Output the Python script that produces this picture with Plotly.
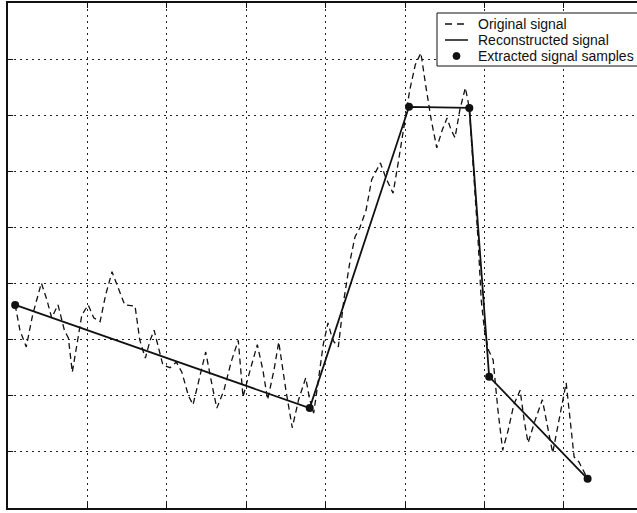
import plotly.graph_objects as go

# Extracted samples (time, amplitude)
sample_t = [0.09, 3.80, 5.05, 5.81, 6.06, 7.30]
sample_v = [3.62, 1.78, 7.15, 7.13, 2.34, 0.52]

# Original signal
orig_t = [0.09, 0.15, 0.23, 0.31, 0.42, 0.49, 0.55, 0.63, 0.71, 0.76,
          0.81, 0.88, 0.93, 1.01, 1.08, 1.16, 1.23, 1.31, 1.39, 1.47,
          1.60, 1.66, 1.73, 1.79, 1.84, 1.89, 1.95, 2.04, 2.12, 2.19,
          2.27, 2.33, 2.41, 2.49, 2.57, 2.63, 2.72, 2.81, 2.90, 2.96,
          3.05, 3.14, 3.21, 3.27, 3.35, 3.41, 3.50, 3.58, 3.66, 3.75,
          3.80, 3.85, 3.90, 3.97, 4.03, 4.09, 4.16, 4.23, 4.31, 4.37,
          4.43, 4.51, 4.58, 4.69, 4.76, 4.85, 4.92, 5.00, 5.06, 5.13,
          5.20, 5.26, 5.33, 5.40, 5.47, 5.53, 5.58, 5.63, 5.69, 5.76,
          5.81, 5.87, 5.92, 5.96, 6.00, 6.05, 6.11, 6.17, 6.23, 6.30,
          6.37, 6.45, 6.50, 6.55, 6.64, 6.73, 6.79, 6.86, 6.94, 7.03,
          7.08, 7.13, 7.19, 7.24, 7.30]
orig_v = [3.62, 3.17, 2.87, 3.44, 4.01, 3.71, 3.39, 3.62, 3.17, 3.03,
          2.42, 2.99, 3.44, 3.62, 3.39, 3.32, 3.80, 4.21, 3.92, 3.62,
          3.60, 2.99, 2.67, 2.99, 3.17, 2.91, 2.55, 2.50, 2.60, 2.42,
          2.01, 1.84, 2.32, 2.78, 2.19, 1.78, 2.10, 2.60, 2.99, 1.98,
          2.46, 2.91, 2.46, 1.93, 2.46, 2.96, 2.10, 1.43, 1.93, 2.32,
          1.93, 1.69, 2.19, 2.91, 3.30, 2.99, 2.87, 3.71, 4.42, 4.83,
          4.99, 5.31, 5.85, 6.15, 5.88, 5.61, 6.20, 6.92, 7.45, 7.90,
          8.11, 7.54, 6.92, 6.42, 6.74, 6.95, 6.74, 6.60, 7.09, 7.49,
          7.13, 5.85, 4.78, 3.71, 3.17, 2.82, 2.64, 1.75, 1.03, 1.39,
          1.84, 2.10, 1.57, 1.16, 1.57, 1.93, 1.48, 0.98, 1.57, 2.23,
          1.57, 0.91, 0.82, 0.68, 0.52]

legend_labels = ["Original signal", "Reconstructed signal", "Extracted signal samples"]

INK = "#111"
W, H = 637, 513
ML, MR, MT, MB = 8, 0, 3, 5
PW, PH = W - ML - MR, H - MT - MB
X_MAX = PW / 79.4


def px(xp):
    """Pixel column -> paper x."""
    return (xp - ML) / PW


def py(yp):
    """Pixel row -> paper y."""
    return (H - MB - yp) / PH


fig = go.Figure()
fig.add_trace(go.Scatter(
    x=orig_t, y=orig_v, mode="lines", name=legend_labels[0],
    line=dict(color=INK, width=1.3, dash="6px,4px"),
))
fig.add_trace(go.Scatter(
    x=sample_t, y=sample_v, mode="lines", name=legend_labels[1],
    line=dict(color=INK, width=1.8),
))
fig.add_trace(go.Scatter(
    x=sample_t, y=sample_v, mode="markers", name=legend_labels[2],
    marker=dict(color=INK, size=8, symbol="circle"),
))

axis_common = dict(
    showgrid=True, gridcolor="#222", gridwidth=1, griddash="2px,4px",
    showline=True, linecolor=INK, linewidth=1.5,
    ticks="inside", ticklen=5, tickcolor=INK, tickwidth=1,
    showticklabels=False, zeroline=False, dtick=1, tick0=0,
)
fig.update_xaxes(range=[0, X_MAX], mirror="ticks", **axis_common)
fig.update_yaxes(range=[0, 9], mirror=False, **axis_common)

# Legend box drawn by hand (compact row spacing)
shapes = [dict(type="rect", xref="paper", yref="paper",
               x0=px(437), x1=px(660), y0=py(66), y1=py(13),
               line=dict(color=INK, width=1), fillcolor="white", layer="above")]
rows = [24, 40, 56]
shapes.append(dict(type="line", xref="paper", yref="paper",
                   x0=px(445), x1=px(468), y0=py(rows[0]), y1=py(rows[0]),
                   line=dict(color=INK, width=1.3, dash="7px,5px"), layer="above"))
shapes.append(dict(type="line", xref="paper", yref="paper",
                   x0=px(445), x1=px(468), y0=py(rows[1]), y1=py(rows[1]),
                   line=dict(color=INK, width=1.5), layer="above"))
shapes.append(dict(type="circle", xref="paper", yref="paper",
                   x0=px(453), x1=px(460), y0=py(rows[2] + 3.5), y1=py(rows[2] - 3.5),
                   line=dict(color=INK, width=1), fillcolor=INK, layer="above"))

annotations = [dict(xref="paper", yref="paper", x=px(476), y=py(r),
                    xanchor="left", yanchor="middle", showarrow=False,
                    text=lab,
                    font=dict(family="Liberation Sans, Arial, sans-serif",
                              size=14, color=INK))
               for lab, r in zip(legend_labels, rows)]

fig.update_layout(
    width=W, height=H,
    margin=dict(l=ML, r=MR, t=MT, b=MB),
    paper_bgcolor="white", plot_bgcolor="white",
    showlegend=False,
    shapes=shapes, annotations=annotations,
)

fig.write_html("out.html")
